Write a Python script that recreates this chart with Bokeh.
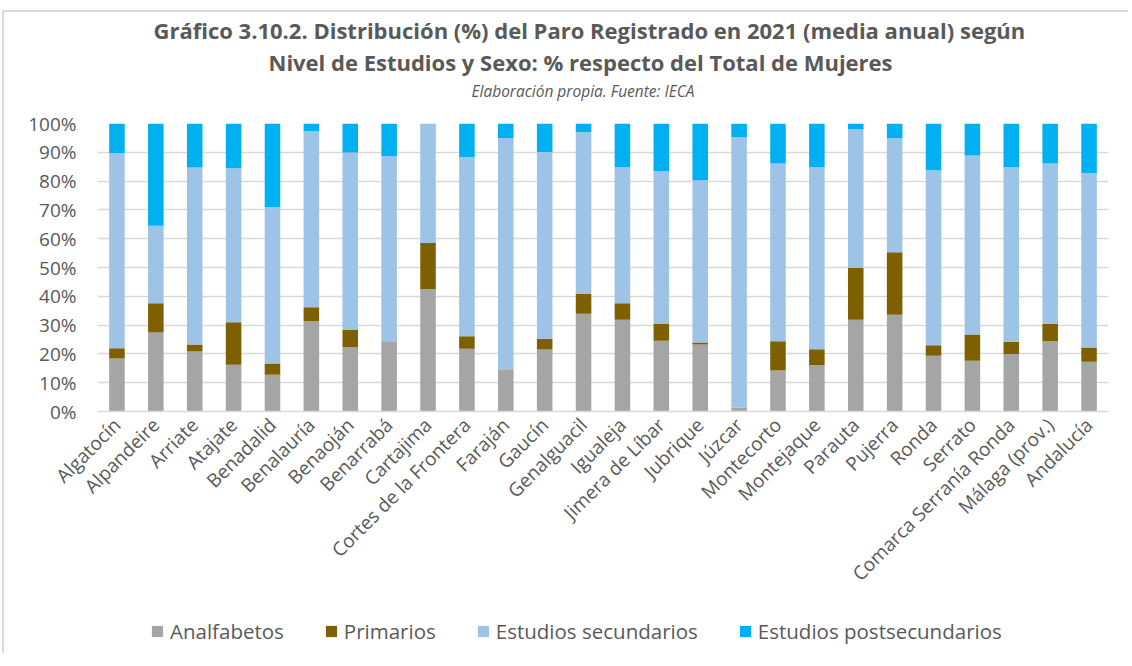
from bokeh.plotting import figure
from bokeh.layouts import column
from bokeh.models import (FactorRange, Range1d, Title, Legend, LegendItem,
                          PrintfTickFormatter, FixedTicker, ColumnDataSource)
from bokeh.embed import file_html
from bokeh.resources import INLINE

municipios = ["Algatocín", "Alpandeire", "Arriate", "Atajate", "Benadalid",
              "Benalauría", "Benaoján", "Benarrabá", "Cartajima",
              "Cortes de la Frontera", "Faraján", "Gaucín", "Genalguacil",
              "Igualeja", "Jimera de Líbar", "Jubrique", "Júzcar", "Montecorto",
              "Montejaque", "Parauta", "Pujerra", "Ronda", "Serrato",
              "Comarca Serranía Ronda", "Málaga (prov.)", "Andalucía"]

analfabetos = [18.4, 27.4, 20.8, 16.2, 12.8, 31.3, 22.3, 24.4, 42.5, 21.8, 14.7,
               21.5, 33.9, 31.9, 24.6, 23.3, 1.4, 14.2, 16.1, 31.9, 33.6, 19.4,
               17.6, 20.0, 24.5, 17.3]
primarios = [3.6, 10.2, 2.5, 14.8, 3.9, 4.9, 6.0, 0.0, 16.0, 4.3, 0.0, 3.8, 6.9,
             5.7, 5.8, 0.7, 0.0, 10.2, 5.5, 18.0, 21.7, 3.6, 9.1, 4.2, 5.9, 4.9]
secundarios = [67.8, 26.9, 61.4, 53.5, 54.3, 61.1, 61.6, 64.2, 41.5, 62.3, 80.3,
               64.8, 56.2, 47.2, 53.1, 56.3, 93.8, 61.7, 63.2, 48.1, 39.7, 60.8,
               62.2, 60.7, 55.7, 60.6]
postsecundarios = [10.2, 35.5, 15.3, 15.5, 29.0, 2.7, 10.1, 11.4, 0.0, 11.6, 5.0,
                   9.9, 3.0, 15.2, 16.5, 19.7, 4.8, 13.9, 15.2, 2.0, 5.0, 16.2,
                   11.1, 15.1, 13.9, 17.2]

series_names = ["Analfabetos", "Primarios", "Estudios secundarios",
                "Estudios postsecundarios"]
series_colors = ["#A5A5A5", "#7F6000", "#9DC3E6", "#00B0F0"]
y_ticks = [0, 10, 20, 30, 40, 50, 60, 70, 80, 90, 100]

title_1 = "Gráfico 3.10.2. Distribución (%) del Paro Registrado en 2021 (media anual) según"
title_2 = "Nivel de Estudios y Sexo: % respecto del Total de Mujeres"
subtitle = "Elaboración propia. Fuente: IECA"

FONT = "Open Sans"
TXT = "#595959"
BORDER = "2px solid #D9D9D9"

source = ColumnDataSource(dict(x=municipios, a=analfabetos, p=primarios,
                               s=secundarios, ps=postsecundarios))
stack_cols = ["a", "p", "s", "ps"]

# ---- main chart ----
p = figure(width=1126, height=599, x_range=FactorRange(*municipios),
           y_range=Range1d(0, 100), output_backend="svg", toolbar_location=None,
           min_border_left=93, min_border_right=22, min_border_top=111,
           min_border_bottom=200)
p.styles = {"border-top": BORDER, "border-left": BORDER,
            "margin-top": "10px", "margin-left": "2px"}

p.vbar_stack(stack_cols, x="x", width=0.4, color=series_colors,
             line_color=None, source=source)

p.outline_line_color = None
p.xgrid.grid_line_color = None
p.ygrid.grid_line_color = "#D9D9D9"
p.ygrid.grid_line_width = 1.5
p.x_range.range_padding = 0

p.yaxis.ticker = FixedTicker(ticks=y_ticks)
p.yaxis.formatter = PrintfTickFormatter(format="%d%%")
p.yaxis.axis_line_color = None
p.yaxis.major_tick_line_color = None
p.yaxis.minor_tick_line_color = None
p.yaxis.major_tick_out = 0
p.yaxis.major_label_standoff = 21
p.yaxis.major_label_text_font = FONT
p.yaxis.major_label_text_font_size = "19px"
p.yaxis.major_label_text_color = TXT

p.xaxis.axis_line_color = "#D9D9D9"
p.xaxis.axis_line_width = 1.5
p.xaxis.major_tick_line_color = None
p.xaxis.major_tick_out = 0
p.xaxis.major_label_standoff = 10
p.xaxis.major_label_orientation = 0.785398
p.xaxis.major_label_text_font = FONT
p.xaxis.major_label_text_font_size = "19px"
p.xaxis.major_label_text_color = TXT

# titles stacked upward from the frame: spacer, subtitle, line 2, line 1
p.add_layout(Title(text=" ", text_font_size="1px", standoff=19), "above")
p.add_layout(Title(text=subtitle, align="left", offset=374, text_font=FONT,
                   text_font_style="italic", text_font_size="15.5px",
                   text_color=TXT, standoff=0), "above")
p.add_layout(Title(text=title_2, align="left", offset=171, text_font=FONT,
                   text_font_style="bold", text_font_size="22px",
                   text_color=TXT, standoff=1), "above")
p.add_layout(Title(text=title_1, align="left", offset=56, text_font=FONT,
                   text_font_style="bold", text_font_size="22px",
                   text_color=TXT, standoff=0), "above")

# ---- legend strip below the chart (its bars lie outside its visible range) ----
leg = figure(width=1126, height=44, x_range=FactorRange(*municipios),
             y_range=Range1d(1000, 1001), output_backend="svg",
             toolbar_location=None, min_border=0)
leg.styles = {"border-left": BORDER, "margin-left": "2px"}
leg.axis.visible = False
leg.grid.visible = False
leg.outline_line_color = None

leg_rs = leg.vbar_stack(stack_cols, x="x", width=0.4, color=series_colors,
                        line_color=None, source=source)
items = [LegendItem(label=n, renderers=[r]) for n, r in zip(series_names, leg_rs)]

legend = Legend(items=items, orientation="horizontal", location=(53, 8),
                label_text_font=FONT, label_text_font_size="20.5px",
                label_text_color=TXT, glyph_width=14, glyph_height=14,
                label_standoff=6, spacing=40, padding=0, margin=0,
                border_line_color=None, background_fill_alpha=0)
leg.add_layout(legend)

layout = column(p, leg, spacing=0)
open("out.html", "w").write(file_html(layout, INLINE))
